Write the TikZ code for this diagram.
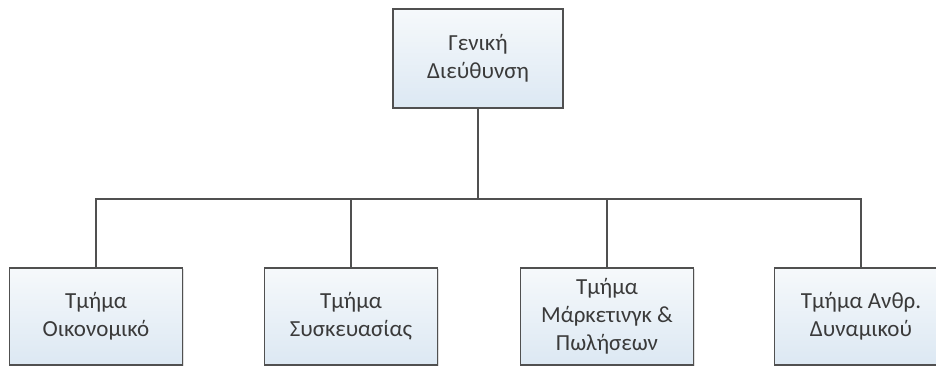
\documentclass[tikz,border=0pt]{standalone}
\usepackage{fontspec}
\setmainfont{Carlito}
\usetikzlibrary{shadows}
\definecolor{boxtop}{HTML}{F6F9FB}
\definecolor{boxbot}{HTML}{DCE8F3}
\definecolor{edge}{HTML}{505050}
\definecolor{txt}{HTML}{3A3A3A}
\begin{document}
\begin{tikzpicture}[x=1pt,y=1pt,
  orgbox/.style={draw=edge, line width=1.6pt, rectangle, inner sep=0pt,
    top color=boxtop, bottom color=boxbot, align=center, text=txt,
    font=\fontsize{23}{28}\selectfont,
    drop shadow={shadow xshift=1.2pt, shadow yshift=-1.2pt, opacity=0.25}},
  toporg/.style={orgbox, minimum width=170pt, minimum height=99pt},
  deptbox/.style={orgbox, minimum width=173pt, minimum height=97pt},
  conn/.style={draw=edge, line width=1.6pt}]
\useasboundingbox (0,0) rectangle (936,367);
\clip (0,0) rectangle (936,367);
\node[toporg] (gd) at (478,308.5) {Γενική\\Διεύθυνση};
\node[deptbox] (d1) at (96,50.5) {Τμήμα\\Οικονομικό};
\node[deptbox] (d2) at (351,50.5) {Τμήμα\\Συσκευασίας};
\node[deptbox] (d3) at (607,50.5) {Τμήμα\\Μάρκετινγκ \&\\Πωλήσεων};
\node[deptbox] (d4) at (861,50.5) {Τμήμα Ανθρ.\\Δυναμικού};
\coordinate (bus) at (478,168);
\draw[conn] (gd.south) -- (bus);
\draw[conn] (d1.north) -- (d1.north |- bus) -- (d4.north |- bus) -- (d4.north);
\draw[conn] (d2.north) -- (d2.north |- bus);
\draw[conn] (d3.north) -- (d3.north |- bus);
\end{tikzpicture}
\end{document}
